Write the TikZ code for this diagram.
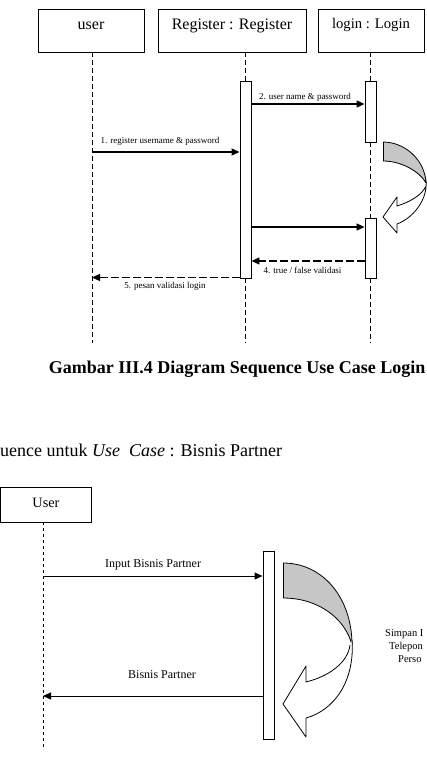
\documentclass[tikz,border=0pt]{standalone}
\usepackage{fontspec}
\setmainfont{Liberation Serif}
\usetikzlibrary{arrows.meta}
\tikzset{
  objbox/.style={draw, line width=0.9pt, inner sep=0pt, minimum height=43pt},
  actbox/.style={draw, fill=white, line width=0.9pt, inner sep=0pt, minimum width=11pt},
  life/.style={line width=0.9pt, dash pattern=on 5pt off 3pt},
  life2/.style={line width=0.8pt, dash pattern=on 3pt off 3pt},
  msg/.style={line width=1.2pt, -{Triangle[length=8pt,width=7pt]}},
  rmsg/.style={line width=1.2pt, dash pattern=on 8pt off 3pt, -{Triangle[length=8pt,width=7pt]}},
  small/.style={font=\fontsize{9}{10}\selectfont, inner sep=0pt},
  mid/.style={font=\fontsize{12}{14}\selectfont, inner sep=0pt},
  curv/.style={draw, line width=0.8pt, line join=round},
}
\begin{document}
\begin{tikzpicture}[x=1pt,y=-1pt]
\useasboundingbox (0,0) rectangle (426,760);
% ---------- top diagram ----------
\node[objbox, minimum width=106pt, label={[font=\fontsize{16}{18}\selectfont, yshift=5pt]center:user}] (user) at (91,30.5) {};
\node[objbox, minimum width=148pt, label={[font=\fontsize{16}{18}\selectfont, yshift=5pt]center:Register : Register}] (reg) at (232,30.5) {};
\node[objbox, minimum width=106pt, label={[font=\fontsize{14.7}{17}\selectfont, yshift=6pt]center:login : Login}] (login) at (371,30.5) {};

\node[actbox, minimum height=197pt] (ra) at (245.5,179.5) {};
\node[actbox, minimum height=61pt] (la1) at (370.5,111.5) {};
\node[actbox, minimum height=60pt] (la2) at (370.5,248) {};

\coordinate (userTop) at (92,52);
\coordinate (userEnd) at (92,343);
\coordinate (regEnd) at (245.5,343);
\coordinate (loginEnd) at (370.5,343);

\draw[life] (userTop) -- (userEnd);
\draw[life] (reg.south -| ra) -- (ra.north);
\draw[life] (ra.south) -- (regEnd);
\draw[life] (login.south -| la1) -- (la1.north);
\draw[life] (la1.south) -- (la2.north);
\draw[life] (la2.south) -- (loginEnd);

\coordinate (y2) at (0,104);
\coordinate (y1) at (92,152);
\coordinate (y3) at (0,227);
\coordinate (y4) at (0,261);
\coordinate (y5) at (92,277.5);

\draw[msg] (ra.east |- y2) -- (la1.west |- y2);
\draw[msg] (y1) -- (ra.west |- y1);
\draw[msg] (ra.east |- y3) -- (la2.west |- y3);
\draw[rmsg] (la2.west |- y4) -- (ra.east |- y4);
\draw[rmsg] (ra.west |- y5) -- (y5);

\node[small] (l2) at (305,97) {2. user name \& password};
\node[small] (l1) at (160,141) {1. register username \& password};
\node[small] (l4) at (302.5,270) {4. true / false validasi};
\node[small] (l5) at (165,286) {5. pesan validasi login};

% self-call curved arrow (top)
\fill[gray!45] (383,142) .. controls (405,142) and (425,160) .. (426,183)
   .. controls (420,172) and (402,161) .. (383,161) -- cycle;
\draw[curv] (383,142) .. controls (405,142) and (425,160) .. (426,183);
\draw[curv] (383,161) -- (383,142);
\draw[curv] (383,161) .. controls (402,161) and (420,172) .. (426,183);
\draw[curv, fill=white] (426,180) .. controls (428,200) and (413,218) .. (397,224)
   -- (397,233) -- (383,217) -- (397,197) -- (397,206)
   .. controls (410,202) and (422,195) .. (426,186);

% ---------- captions ----------
\node[font=\bfseries\fontsize{18}{20}\selectfont, inner sep=0pt, anchor=base east] (cap) at (425.5,373) {Gambar III.4 Diagram Sequence Use Case Login};
\node[font=\fontsize{18}{20}\selectfont, inner sep=0pt, anchor=base west] (sub) at (0,456) {uence untuk \textit{Use}\ \ \textit{Case} : Bisnis Partner};

% ---------- bottom diagram ----------
\node[objbox, minimum width=91.5pt, minimum height=35pt, label={[font=\fontsize{14.3}{16}\selectfont, yshift=2pt]center:User}] (user2) at (46,504.5) {};
\node[actbox, minimum height=188pt] (pa) at (268.5,645) {};
\coordinate (u2End) at (43,747);
\draw[life2] (user2.south -| u2End) -- (u2End);

\coordinate (yb1) at (43,576);
\coordinate (yb2) at (43,696);
\draw[msg, line width=1pt] (yb1) -- (pa.west |- yb1);
\draw[msg, line width=1pt] (pa.west |- yb2) -- (yb2);
\node[mid] (lb1) at (153,565) {Input Bisnis Partner};
\node[mid] (lb2) at (162,675) {Bisnis Partner};

% self-call curved arrow (bottom)
\fill[gray!45] (283,563) .. controls (323,563) and (352,598) .. (352,645)
   .. controls (345,618) and (318,598) .. (283,598) -- cycle;
\draw[curv] (283,563) .. controls (323,563) and (352,598) .. (352,645);
\draw[curv] (283,598) -- (283,563);
\draw[curv] (283,598) .. controls (318,598) and (345,618) .. (352,645);
\draw[curv, fill=white] (352,640) .. controls (355,680) and (335,710) .. (306,718)
   -- (306,737) -- (283,704) -- (306,666) -- (306,682)
   .. controls (330,676) and (348,662) .. (350,645);

\node[font=\fontsize{10.5}{12}\selectfont, inner sep=0pt, anchor=base west] (s1) at (385,636) {Simpan I};
\node[font=\fontsize{10.5}{12}\selectfont, inner sep=0pt, anchor=base west] (s2) at (389,649) {Telepon};
\node[font=\fontsize{10.5}{12}\selectfont, inner sep=0pt, anchor=base west] (s3) at (398,662) {Perso};
\end{tikzpicture}
\end{document}
